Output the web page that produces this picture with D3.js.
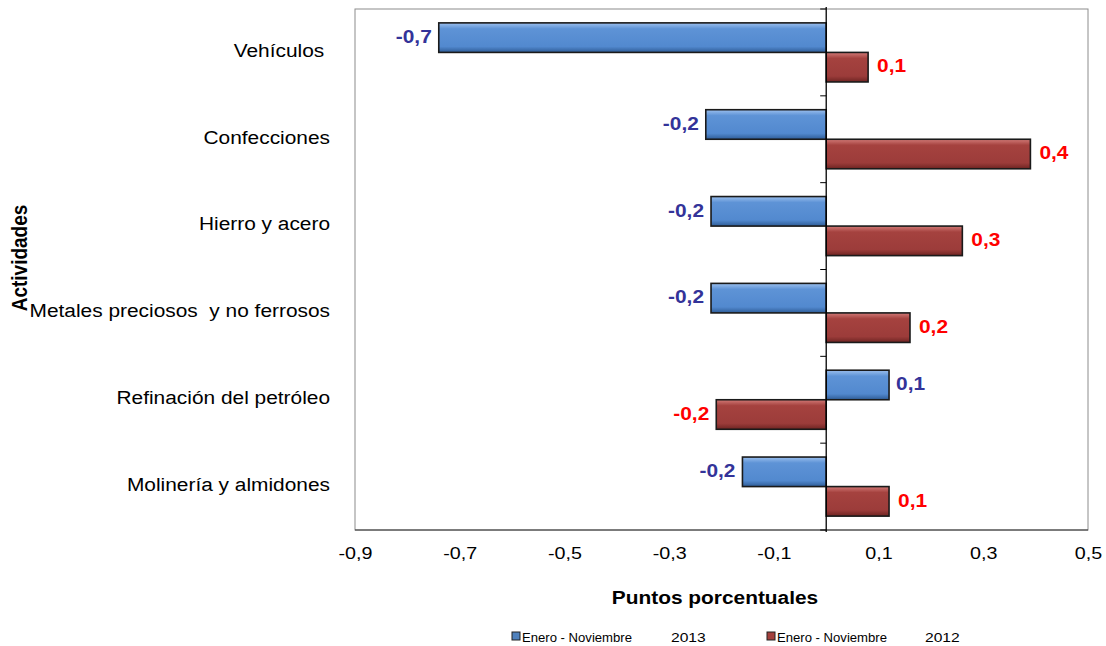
<!DOCTYPE html>
<html><head><meta charset="utf-8">
<script src="https://cdn.jsdelivr.net/npm/d3@7"></script>
<style>body{margin:0;background:#fff}svg{display:block;font-family:"Liberation Sans",Arial,sans-serif}</style>
</head><body><svg id="c" width="1106" height="646"></svg>
<script>
const categories = ["Vehículos ", "Confecciones", "Hierro y acero", "Metales preciosos  y no ferrosos", "Refinación del petróleo", "Molinería y almidones"];
const seriesNames = ["Enero - Noviembre", "Enero - Noviembre"];
const seriesYears = ["2013", "2012"];
const values2013 = [-0.74, -0.23, -0.22, -0.22, 0.12, -0.16];
const values2012 = [0.08, 0.39, 0.26, 0.16, -0.21, 0.12];
const xTicks = [-0.9, -0.7, -0.5, -0.3, -0.1, 0.1, 0.3, 0.5];

const SX = 1.16;
const svg = d3.select("#c");
const L = 355, R = 1088, T = 9, B = 530;
const x = d3.scaleLinear().domain([-0.9, 0.5]).range([L, R]);
const y = d3.scaleBand().domain(categories).range([T, B]).padding(0);
const ys = d3.scaleBand().domain([0, 1]).range([0, y.bandwidth()]).paddingInner(0).paddingOuter(0.47);

const defs = svg.append("defs");
function grad(id, stops) {
  const g = defs.append("linearGradient").attr("id", id).attr("x1", 0).attr("y1", 0).attr("x2", 0).attr("y2", 1);
  stops.forEach(s => g.append("stop").attr("offset", s[0]).attr("stop-color", s[1]));
}
grad("gb", [[0, "#9CC0EE"], [0.2, "#5E93D6"], [0.8, "#5289CF"], [1, "#2E5C96"]]);
grad("gr", [[0, "#D27A77"], [0.2, "#A5423F"], [0.8, "#9C3C3A"], [1, "#6E2422"]]);

// plot border
svg.append("rect").attr("x", L).attr("y", T).attr("width", R - L).attr("height", B - T)
  .attr("fill", "none").attr("stroke", "#8c8c8c").attr("stroke-width", 1);
svg.append("line").attr("x1", L).attr("x2", R).attr("y1", B).attr("y2", B).attr("stroke", "#333").attr("stroke-width", 1.2);

const data = [];
categories.forEach((c, i) => {
  data.push({c, s: 0, v: values2013[i]});
  data.push({c, s: 1, v: values2012[i]});
});
const fills = ["url(#gb)", "url(#gr)"];
const labCol = ["#333399", "#FF0000"];

svg.append("g").selectAll("rect").data(data).join("rect")
  .attr("x", d => x(Math.min(0, d.v)))
  .attr("y", d => y(d.c) + ys(d.s))
  .attr("width", d => Math.abs(x(d.v) - x(0)))
  .attr("height", ys.bandwidth())
  .attr("fill", d => fills[d.s])
  .attr("stroke", "#1a1a1a").attr("stroke-width", 1.6);

// y axis at zero
const zg = svg.append("g");
zg.append("line").attr("x1", x(0)).attr("x2", x(0)).attr("y1", T - 2).attr("y2", B + 2).attr("stroke", "#000").attr("stroke-width", 1.3);
const bounds = d3.range(categories.length + 1).map(i => T + i * y.step());
zg.selectAll("line.t").data(bounds).join("line").attr("class", "t")
  .attr("x1", x(0) - 6).attr("x2", x(0)).attr("y1", d => d).attr("y2", d => d).attr("stroke", "#000").attr("stroke-width", 1);

// category labels
svg.append("g").selectAll("text").data(categories).join("text")
  .attr("transform", d => `translate(330,${y(d) + y.bandwidth() / 2 - 0.5}) scale(${SX},1)`)
  .attr("text-anchor", "end").attr("dominant-baseline", "middle")
  .style("white-space", "pre")
  .attr("font-size", 18).attr("fill", "#000").text(d => d);

// data labels
const fmt = v => v.toFixed(1).replace(".", ",");
const gapPos = [7, 9];
svg.append("g").selectAll("text").data(data).join("text")
  .attr("transform", d => `translate(${d.v < 0 ? x(d.v) - 7 : x(d.v) + gapPos[d.s]},${y(d.c) + ys(d.s) + ys.bandwidth() / 2 + 0.5}) scale(${SX},1)`)
  .attr("text-anchor", d => d.v < 0 ? "end" : "start")
  .attr("dominant-baseline", "middle")
  .attr("font-size", 18).attr("font-weight", "bold")
  .attr("fill", d => labCol[d.s]).text(d => fmt(d.v));

// x axis labels
const xAxis = d3.axisBottom(x).tickValues(xTicks).tickSize(0).tickFormat(fmt);
const xg = svg.append("g").attr("transform", `translate(0,${B})`).call(xAxis);
xg.select(".domain").remove();
xg.selectAll("text").attr("font-size", 17).attr("fill", "#000").attr("dy", 0).attr("y", 29)
  .attr("transform", `scale(${SX},1)`)
  .attr("font-family", "Liberation Sans, Arial, sans-serif");

// axis titles
svg.append("text").attr("transform", `translate(715,604) scale(${SX},1)`).attr("text-anchor", "middle")
  .attr("font-size", 18).attr("font-weight", "bold").text("Puntos porcentuales");
svg.append("text").attr("transform", `translate(27,258) rotate(-90) scale(1,${SX})`).attr("text-anchor", "middle")
  .attr("font-size", 19).attr("font-weight", "bold").text("Actividades");

// legend
const legX = [512, 767];
const legCol = ["#4F81BD", "#A3403D"];
const lg = svg.append("g").selectAll("g").data(seriesNames).join("g")
  .attr("transform", (d, i) => `translate(${legX[i]},642)`);
lg.append("rect").attr("x", 0).attr("y", -10).attr("width", 8).attr("height", 8)
  .attr("fill", (d, i) => legCol[i]).attr("stroke", "#222").attr("stroke-width", 1);
lg.append("text").attr("transform", `translate(10,0) scale(1.05,1)`).attr("font-size", 12.5).text(d => d);
lg.append("text").attr("transform", (d, i) => `translate(${i ? 158 : 159},0) scale(1.25,1)`).attr("font-size", 12.5).text((d, i) => seriesYears[i]);
</script></body></html>
